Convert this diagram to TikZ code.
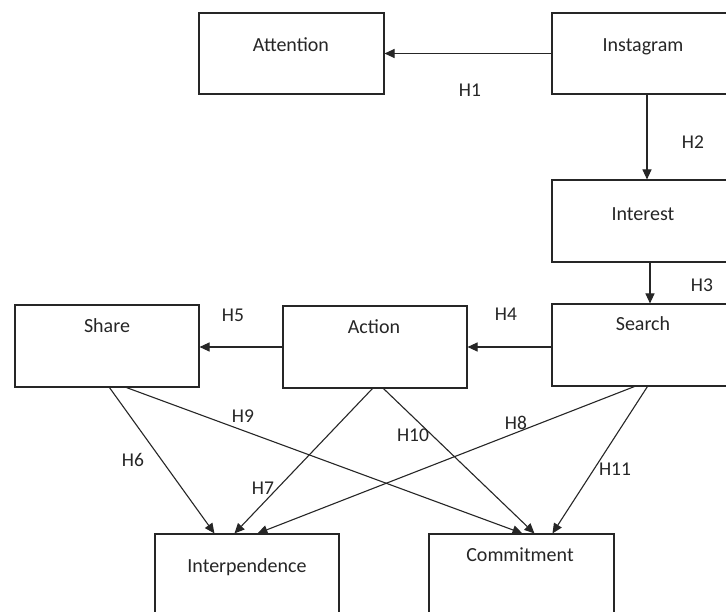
\documentclass[tikz,border=0pt]{standalone}
\usepackage{fontspec}
\setmainfont{Carlito}
\usetikzlibrary{arrows.meta,calc}
\begin{document}
\begin{tikzpicture}[x=1pt,y=-1pt,
  box/.style={draw=black!85, line width=1.1pt, rectangle, inner sep=0pt},
  txt/.style={font=\fontsize{20}{24}\selectfont, text=black!85, inner sep=0pt},
  hl/.style={font=\fontsize{19.5}{23}\selectfont, text=black!85, inner sep=0pt},
  arr/.style={draw=black!85, line width=1.1pt, -{Triangle[length=10pt,width=9pt]}}]
\useasboundingbox (0,0) rectangle (726,612);
\fill[white] (0,0) rectangle (726,612);
\clip (0,0) rectangle (726,612);
% boxes
\node[box, minimum width=185pt, minimum height=81pt] (att)   at (291.5,53.5) {};
\node[box, minimum width=183pt, minimum height=81pt] (inst)  at (643.5,53.5) {};
\node[box, minimum width=183pt, minimum height=82pt] (int)   at (643.5,221) {};
\node[box, minimum width=183pt, minimum height=82pt] (srch)  at (643.5,345) {};
\node[box, minimum width=184pt, minimum height=82pt] (act)   at (375,347) {};
\node[box, minimum width=184pt, minimum height=82pt] (share) at (107,346) {};
\node[box, minimum width=184pt, minimum height=81pt] (intp)  at (247,574.5) {};
\node[box, minimum width=185pt, minimum height=81pt] (comm)  at (521.5,574.5) {};
% box texts
\node[txt] (attT)   at (291,45)  {Attention};
\node[txt] (instT)  at (643,47)  {Instagram};
\node[txt] (intT)   at (643,214) {Interest};
\node[txt] (srchT)  at (643,324) {Search};
\node[txt] (actT)   at (374,327) {Action};
\node[txt] (shareT) at (107,326) {Share};
\node[txt] (intpT)  at (247,567) {Interpendence};
\node[txt] (commT)  at (520,555) {Commitment};
% connectors
\draw[arr] (inst.west) -- (att.east);
\draw[arr] ([xshift=3.5pt]inst.south) -- ([xshift=3.5pt]int.north);
\draw[arr] ([xshift=6.5pt]int.south) -- ([xshift=6.5pt]srch.north);
\draw[arr] (srch.west |- act.east) -- (act.east);
\draw[arr] (act.west) -- (act.west -| share.east);
\draw[arr] ($(share.south west)+(95,0)$) -- ($(intp.north west)+(60,0)$);
\draw[arr] ($(share.south west)+(112,0)$) -- ($(comm.north west)+(94,0)$);
\draw[arr] ($(act.south west)+(90,0)$) -- ($(intp.north west)+(80,0)$);
\draw[arr] ($(act.south west)+(101,0)$) -- ($(comm.north west)+(106,0)$);
\draw[arr] ($(srch.south west)+(83,0)$) -- ($(intp.north west)+(103,0)$);
\draw[arr] ($(srch.south west)+(96,0)$) -- ($(comm.north west)+(124,0)$);
% hypothesis labels
\node[hl] (h1)  at (470,90)  {H1};
\node[hl] (h2)  at (693,142) {H2};
\node[hl] (h3)  at (702,285) {H3};
\node[hl] (h4)  at (506,314) {H4};
\node[hl] (h5)  at (233,315) {H5};
\node[hl] (h6)  at (133,460) {H6};
\node[hl] (h7)  at (263,488) {H7};
\node[hl] (h8)  at (516,423) {H8};
\node[hl] (h9)  at (243,416) {H9};
\node[hl] (h10) at (413,435) {H10};
\node[hl] (h11) at (615,469) {H11};
\end{tikzpicture}
\end{document}
